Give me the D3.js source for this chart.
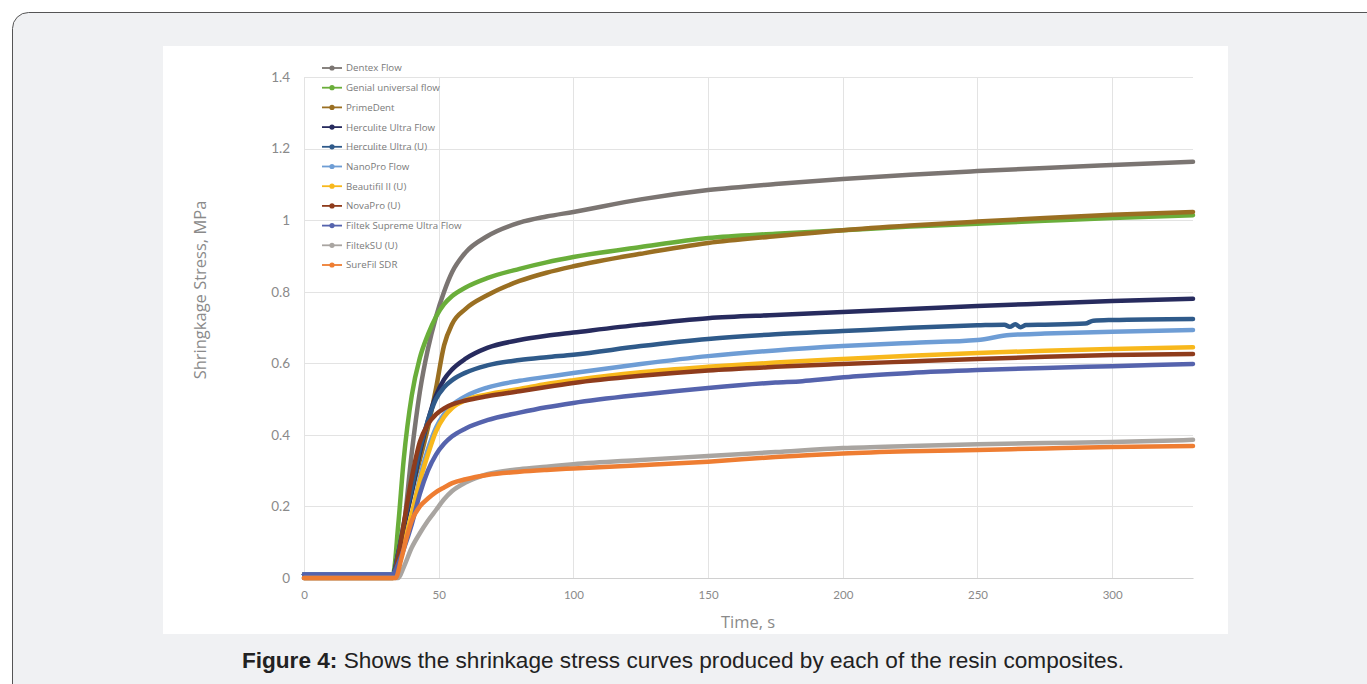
<!DOCTYPE html>
<html lang="en">
  <head>
    <meta charset="UTF-8" />
    <title>shrinkage stress</title>
    <script src="https://cdn.jsdelivr.net/npm/d3@7/dist/d3.min.js"></script>
    <style>
      body { margin: 0; background: #fff; }
      svg { display: block; }
    </style>
  </head>
  <body>
    <div id="wrapper"></div>
    <script>
      // series names + colours (legend order = draw order)
      const seriesNames = [
        "Dentex Flow", "Genial universal flow", "PrimeDent", "Herculite Ultra Flow",
        "Herculite Ultra (U)", "NanoPro Flow", "Beautifil II (U)", "NovaPro (U)",
        "Filtek Supreme Ultra Flow", "FiltekSU (U)", "SureFil SDR",
      ];
      const seriesColors = [
        "#7b7572", "#6aae3a", "#9a6f22", "#272b5e", "#2f5a8a", "#6e9dd5",
        "#f8b81c", "#8f3c1c", "#5563ad", "#a9a5a1", "#ee7d32",
      ];

      // [time s, stress MPa]
      const dentexFlow = [[0,0.01],[33,0.01],[35,0.05],[37,0.14],[40,0.35],[43,0.52],[46,0.64],[49,0.73],[52,0.8],[55,0.855],[60,0.91],[68,0.955],[80,0.993],[90,1.01],[100,1.023],[125,1.058],[150,1.084],[175,1.101],[200,1.115],[225,1.127],[250,1.137],[275,1.146],[300,1.154],[330,1.163]];
      const genialFlow = [[0,0.01],[33,0.01],[35,0.15],[37,0.33],[40,0.51],[43,0.615],[46,0.68],[49,0.73],[52,0.765],[55,0.788],[60,0.812],[68,0.838],[80,0.864],[90,0.882],[100,0.897],[125,0.925],[150,0.95],[175,0.962],[200,0.972],[225,0.982],[250,0.99],[275,0.998],[300,1.006],[330,1.014]];
      const primeDent = [[0,0.01],[33,0.01],[35,0.07],[37,0.14],[40,0.24],[43,0.33],[46,0.42],[49,0.53],[52,0.65],[55,0.71],[60,0.752],[68,0.79],[80,0.83],[90,0.853],[100,0.871],[125,0.906],[150,0.936],[175,0.955],[200,0.972],[225,0.985],[250,0.996],[275,1.006],[300,1.015],[330,1.023]];
      const herculiteFlow = [[0,0.01],[33,0.01],[35,0.07],[37,0.14],[40,0.24],[43,0.35],[46,0.44],[49,0.51],[52,0.555],[55,0.583],[60,0.613],[68,0.643],[80,0.665],[90,0.677],[100,0.686],[125,0.708],[150,0.726],[175,0.735],[200,0.743],[225,0.752],[250,0.76],[275,0.767],[300,0.774],[330,0.78]];
      const herculiteU = [[0,0.01],[33,0.01],[35,0.07],[37,0.15],[40,0.25],[43,0.36],[46,0.44],[49,0.5],[52,0.533],[55,0.553],[60,0.574],[68,0.594],[80,0.609],[90,0.617],[100,0.624],[125,0.648],[150,0.668],[175,0.681],[200,0.69],[225,0.699],[250,0.706],[260,0.708],[262,0.702],[264,0.709],[266,0.701],[268,0.707],[275,0.708],[290,0.711],[293,0.719],[300,0.721],[330,0.724]];
      const nanoProFlow = [[0,0.01],[33,0.01],[35,0.04],[37,0.09],[40,0.17],[43,0.28],[46,0.36],[49,0.42],[52,0.458],[55,0.483],[60,0.508],[68,0.532],[80,0.551],[90,0.562],[100,0.573],[125,0.598],[150,0.62],[175,0.636],[200,0.648],[225,0.657],[250,0.665],[262,0.679],[275,0.683],[300,0.688],[330,0.693]];
      const beautifilU = [[0,0],[33,0],[35,0.03],[37,0.09],[40,0.18],[43,0.27],[46,0.345],[49,0.41],[52,0.45],[55,0.475],[60,0.497],[68,0.513],[80,0.528],[90,0.542],[100,0.553],[125,0.575],[150,0.59],[175,0.602],[200,0.612],[225,0.621],[250,0.629],[275,0.635],[300,0.64],[330,0.645]];
      const novaProU = [[0,0],[33,0],[35,0.06],[37,0.15],[40,0.28],[43,0.38],[46,0.43],[49,0.457],[52,0.474],[55,0.485],[60,0.496],[68,0.508],[80,0.522],[90,0.534],[100,0.545],[125,0.565],[150,0.58],[175,0.59],[200,0.598],[225,0.605],[250,0.612],[275,0.618],[300,0.623],[330,0.626]];
      const filtekFlow = [[0,0.01],[33,0.01],[35,0.04],[37,0.08],[40,0.15],[43,0.235],[46,0.3],[49,0.345],[52,0.375],[55,0.396],[60,0.418],[68,0.441],[80,0.462],[90,0.477],[100,0.489],[125,0.512],[150,0.531],[175,0.546],[185,0.55],[195,0.557],[205,0.564],[225,0.573],[250,0.581],[275,0.587],[300,0.592],[330,0.598]];
      const filtekSUU = [[0,0],[35,0],[37,0.03],[40,0.085],[43,0.125],[46,0.16],[49,0.19],[52,0.22],[55,0.243],[60,0.267],[68,0.29],[80,0.304],[90,0.311],[100,0.318],[125,0.33],[150,0.341],[175,0.352],[200,0.363],[225,0.369],[250,0.374],[275,0.377],[300,0.38],[330,0.386]];
      const sureFilSDR = [[0,0],[34,0],[36,0.05],[38,0.11],[40,0.16],[43,0.2],[46,0.222],[49,0.24],[52,0.253],[55,0.265],[60,0.276],[68,0.288],[80,0.297],[90,0.302],[100,0.306],[125,0.315],[150,0.325],[175,0.338],[200,0.348],[225,0.354],[250,0.358],[275,0.362],[300,0.366],[330,0.369]];

      const seriesData = [
        dentexFlow, genialFlow, primeDent, herculiteFlow, herculiteU, nanoProFlow,
        beautifilU, novaProU, filtekFlow, filtekSUU, sureFilSDR,
      ];

      const xTicks = [0, 50, 100, 150, 200, 250, 300];
      const yTicks = [0, 0.2, 0.4, 0.6, 0.8, 1, 1.2, 1.4];

      const width = 1367;
      const height = 684;
      const plot = { left: 304, right: 1193, top: 77, bottom: 578 };

      const svg = d3
        .select("#wrapper")
        .append("svg")
        .attr("width", width)
        .attr("height", height);

      // page panel + white chart image
      svg.append("rect")
        .attr("x", 12.5).attr("y", 12.5)
        .attr("width", 1385).attr("height", 700)
        .attr("rx", 16)
        .attr("fill", "#f0f1f3")
        .attr("stroke", "#555")
        .attr("stroke-width", 1);
      svg.append("rect")
        .attr("x", 163).attr("y", 46)
        .attr("width", 1065).attr("height", 588)
        .attr("fill", "#ffffff");

      const xScale = d3.scaleLinear().domain([0, 330]).range([plot.left, plot.right]);
      const yScale = d3.scaleLinear().domain([0, 1.4]).range([plot.bottom, plot.top]);

      // gridlines
      const grid = svg.append("g").attr("stroke", "#e3e3e3").attr("stroke-width", 1);
      grid.selectAll(".hg")
        .data(yTicks.filter((d) => d > 0))
        .join("line")
        .attr("x1", plot.left).attr("x2", plot.right)
        .attr("y1", (d) => Math.round(yScale(d)) + 0.5)
        .attr("y2", (d) => Math.round(yScale(d)) + 0.5);
      grid.selectAll(".vg")
        .data(xTicks)
        .join("line")
        .attr("x1", (d) => Math.round(xScale(d)) + 0.5)
        .attr("x2", (d) => Math.round(xScale(d)) + 0.5)
        .attr("y1", plot.top).attr("y2", plot.bottom);

      // x axis
      const xAxis = svg.append("g")
        .attr("transform", `translate(0,${plot.bottom})`)
        .call(d3.axisBottom(xScale).tickValues(xTicks).tickSize(0).tickPadding(13));
      xAxis.select(".domain").attr("stroke", "#d0d0d0").attr("stroke-width", 1.2);
      xAxis.selectAll("text")
        .attr("fill", "#8a8a8a")
        .style("font-family", "Lato, 'Open Sans', sans-serif")
        .style("font-size", "11.5px");

      // y axis
      const yAxis = svg.append("g")
        .attr("transform", `translate(${plot.left},0)`)
        .call(
          d3.axisLeft(yScale)
            .tickValues(yTicks)
            .tickSize(0)
            .tickPadding(14)
            .tickFormat((d) => String(+d.toFixed(1)))
        );
      yAxis.select(".domain").remove();
      yAxis.selectAll("text")
        .attr("fill", "#8a8a8a")
        .style("font-family", "Lato, 'Open Sans', sans-serif")
        .style("font-size", "13.5px");

      // axis titles
      svg.append("text")
        .attr("transform", "translate(206,290) rotate(-90)")
        .attr("text-anchor", "middle")
        .attr("fill", "#8a8a8a")
        .style("font-family", "'Open Sans', sans-serif")
        .style("font-size", "16.5px")
        .text("Shringkage Stress, MPa");
      svg.append("text")
        .attr("x", 748).attr("y", 628)
        .attr("text-anchor", "middle")
        .attr("fill", "#8a8a8a")
        .style("font-family", "'Open Sans', sans-serif")
        .style("font-size", "16.5px")
        .text("Time, s");

      // curves
      const lineGenerator = d3.line()
        .x((d) => xScale(d[0]))
        .y((d) => yScale(d[1]))
        .curve(d3.curveMonotoneX);

      svg.append("g")
        .selectAll("path")
        .data(seriesData)
        .join("path")
        .attr("d", (d) => lineGenerator(d))
        .attr("fill", "none")
        .attr("stroke", (d, i) => seriesColors[i])
        .attr("stroke-width", 4.5)
        .attr("stroke-linecap", "round")
        .attr("stroke-linejoin", "round");

      // legend
      const legend = svg.append("g").attr("transform", "translate(322,68)");
      const entry = legend.selectAll("g")
        .data(seriesNames)
        .join("g")
        .attr("transform", (d, i) => `translate(0,${i * 19.7})`);
      entry.append("line")
        .attr("x1", 0).attr("x2", 20)
        .attr("stroke", (d, i) => seriesColors[i])
        .attr("stroke-width", 1.8);
      entry.append("circle")
        .attr("cx", 10).attr("r", 2.6)
        .attr("fill", (d, i) => seriesColors[i]);
      entry.append("text")
        .attr("x", 24).attr("dy", "0.35em")
        .attr("fill", "#7a7a7a")
        .style("font-family", "'Open Sans', sans-serif")
        .style("font-size", "9.7px")
        .text((d) => d);

      // caption
      const caption = svg.append("text")
        .attr("x", 683).attr("y", 668)
        .attr("text-anchor", "middle")
        .attr("fill", "#222")
        .style("font-family", "'Liberation Sans', Arial, sans-serif")
        .style("font-size", "18px");
      caption.append("tspan").attr("font-weight", "bold").text("Figure 4:");
      caption.append("tspan").text(" Shows the shrinkage stress curves produced by each of the resin composites.");
      const captionWidth = caption.node().getComputedTextLength();
      caption.style("font-size", `${(18 * 883) / captionWidth}px`);
    </script>
  </body>
</html>
